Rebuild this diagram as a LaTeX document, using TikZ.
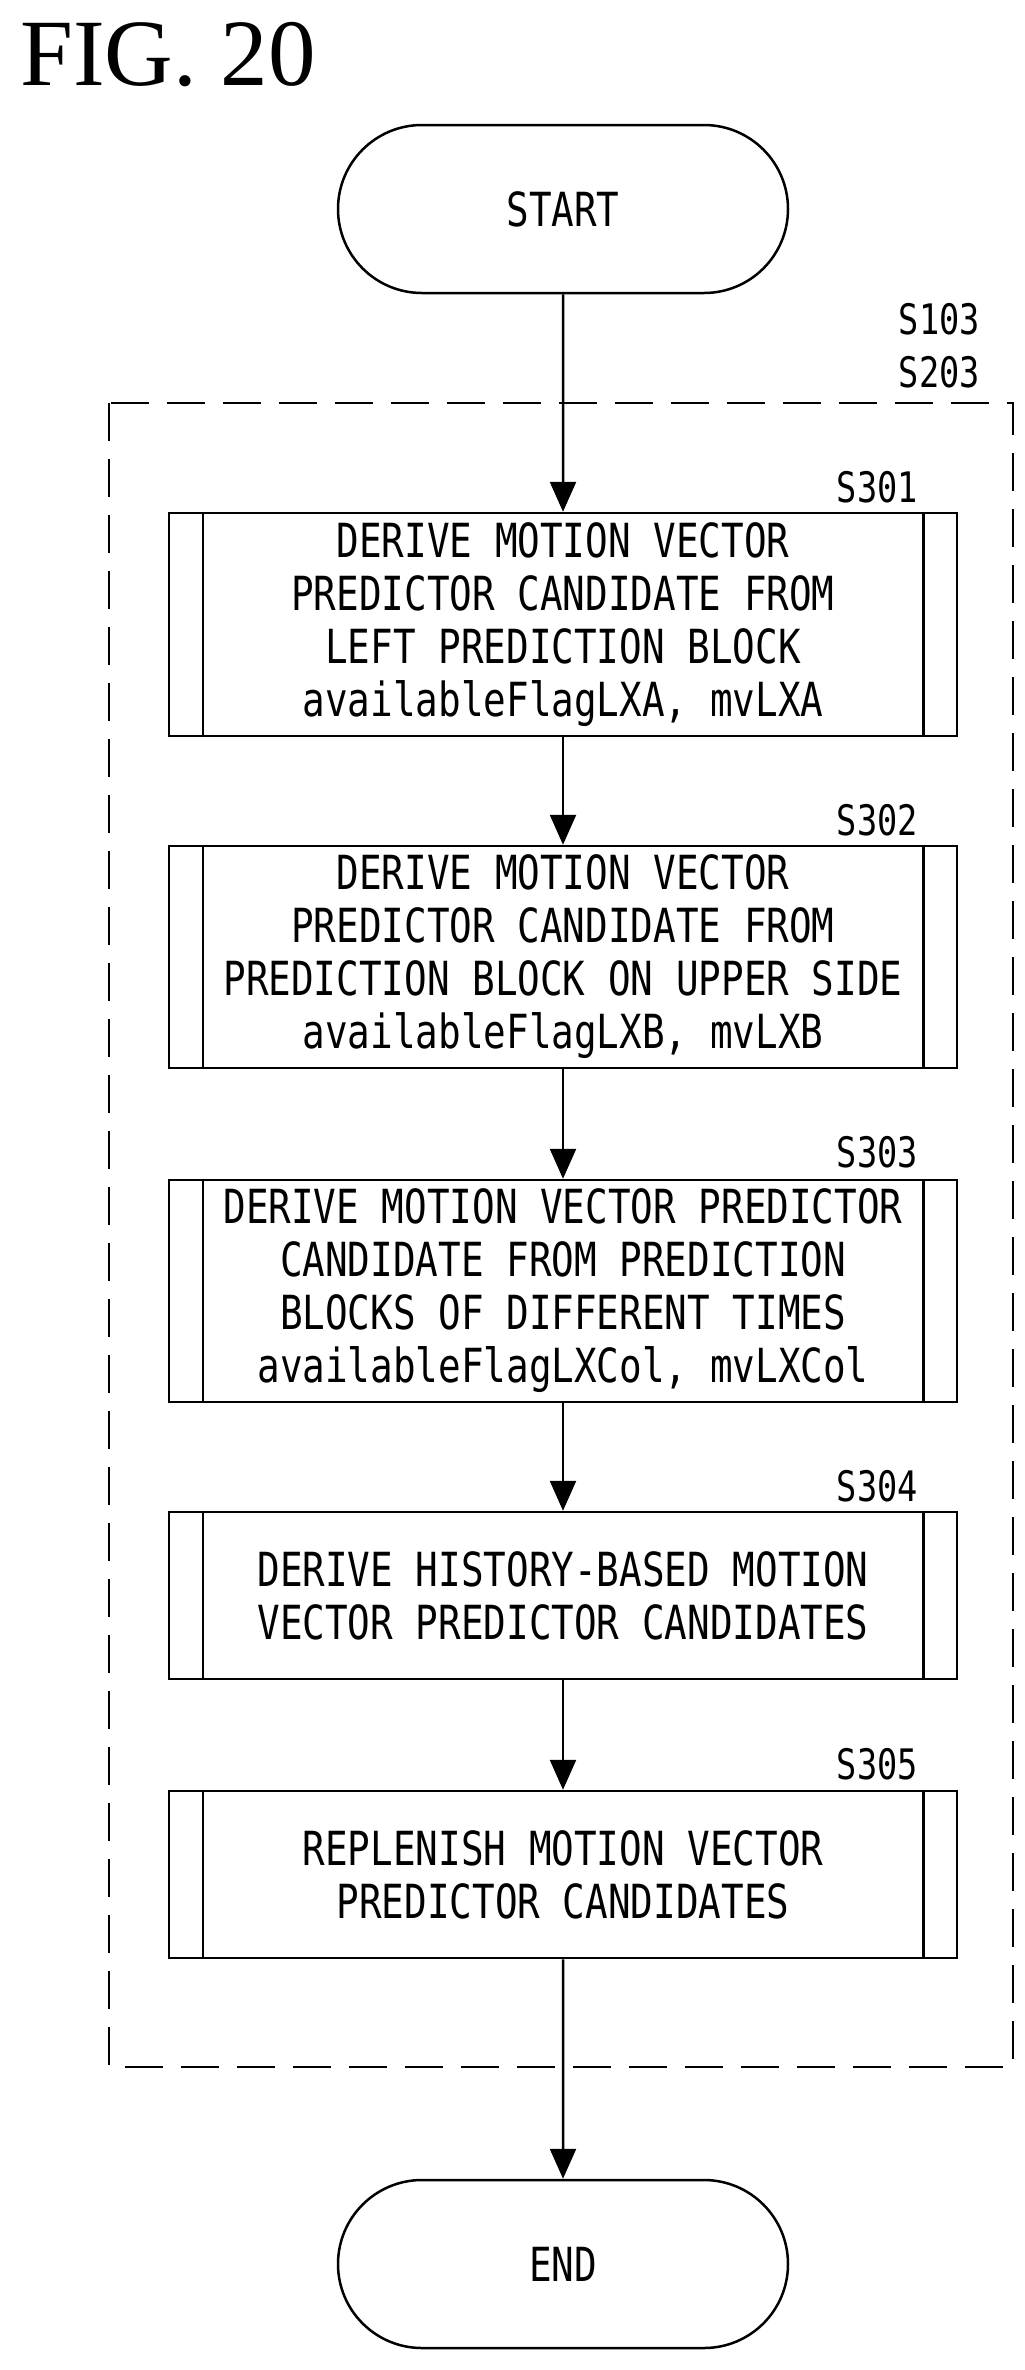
\documentclass[tikz,border=0pt]{standalone}
\usepackage{fontspec}
\setmainfont{Liberation Serif}
\newfontfamily\pf[FakeStretch=0.8]{DejaVu Sans Mono}
\usetikzlibrary{arrows.meta,shapes.misc}
\begin{document}
\begin{tikzpicture}[x=1pt,y=-1pt,
  every node/.style={inner sep=0pt},
  term/.style={draw,line width=2.5pt,rounded rectangle,minimum width=450pt,minimum height=168pt,font=\pf\fontsize{47}{53}\selectfont},
  proc/.style={draw,line width=2.5pt,minimum width=788pt,align=center,font=\pf\fontsize{47}{53}\selectfont},
  lab/.style={anchor=east,font=\pf\fontsize{42}{48}\selectfont},
  arr/.style={line width=2.5pt,-{Triangle[length=30pt,width=26pt]}}]
\useasboundingbox (0,0) rectangle (1025,2370);
\node[anchor=west,font=\fontsize{95}{100}\selectfont] (fig) at (20,55) {FIG. 20};
\node[term] (start) at (563,209) {START};
\draw[line width=2.5pt,dash pattern=on 38pt off 18pt] (109,403) rectangle (1013,2067);
\node[lab] (l1) at (980,319) {S103};
\node[lab] (l2) at (980,372) {S203};
\node[proc,minimum height=223pt] (s1) at (563,624.5) {DERIVE MOTION VECTOR\\PREDICTOR CANDIDATE FROM\\LEFT PREDICTION BLOCK\\availableFlagLXA, mvLXA};
\node[proc,minimum height=222pt] (s2) at (563,957) {DERIVE MOTION VECTOR\\PREDICTOR CANDIDATE FROM\\PREDICTION BLOCK ON UPPER SIDE\\availableFlagLXB, mvLXB};
\node[proc,minimum height=222pt] (s3) at (563,1291) {DERIVE MOTION VECTOR PREDICTOR\\CANDIDATE FROM PREDICTION\\BLOCKS OF DIFFERENT TIMES\\availableFlagLXCol, mvLXCol};
\node[proc,minimum height=167pt] (s4) at (563,1595.5) {DERIVE HISTORY-BASED MOTION\\VECTOR PREDICTOR CANDIDATES};
\node[proc,minimum height=167pt] (s5) at (563,1874.5) {REPLENISH MOTION VECTOR\\PREDICTOR CANDIDATES};
\node[term] (end) at (563,2264) {END};
\foreach \n in {s1,s2,s3,s4,s5}{
  \draw[line width=2.5pt] ([xshift=35pt]\n.north west) -- ([xshift=35pt]\n.south west);
  \draw[line width=2.5pt] ([xshift=-35pt]\n.north east) -- ([xshift=-35pt]\n.south east);}
\node[lab] (t1) at (918,487) {S301};
\node[lab] (t2) at (918,820) {S302};
\node[lab] (t3) at (918,1152) {S303};
\node[lab] (t4) at (918,1486) {S304};
\node[lab] (t5) at (918,1764) {S305};
\draw[arr] (start) -- (s1);
\draw[arr] (s1) -- (s2);
\draw[arr] (s2) -- (s3);
\draw[arr] (s3) -- (s4);
\draw[arr] (s4) -- (s5);
\draw[arr] (s5) -- (end);
\end{tikzpicture}
\end{document}
